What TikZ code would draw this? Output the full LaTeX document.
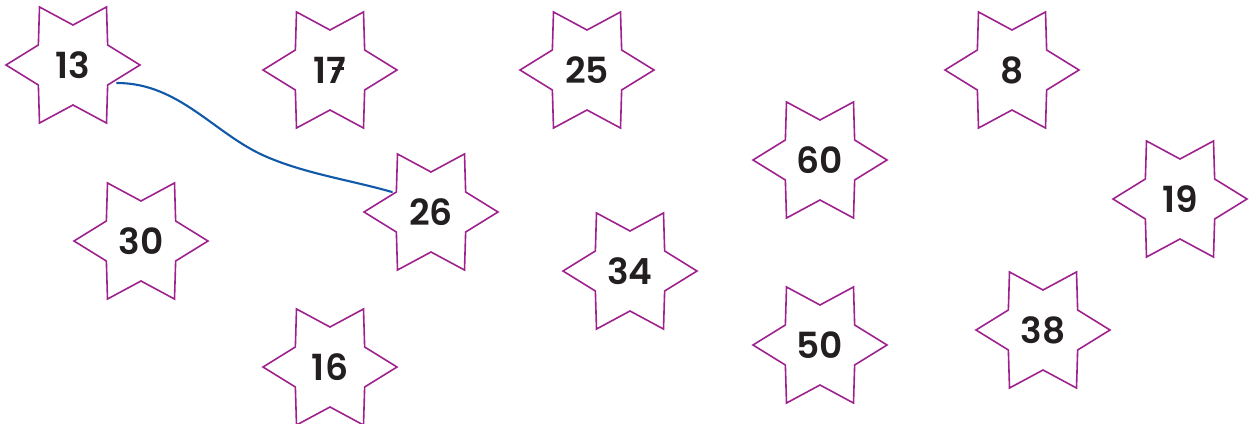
\documentclass[tikz,border=0pt]{standalone}
\usepackage{fontspec}
\setmainfont{Poppins}[BoldFont={Poppins SemiBold}]
\definecolor{starpurple}{RGB}{158,34,142}
\definecolor{lineblue}{RGB}{16,88,168}
\definecolor{numink}{RGB}{35,31,32}
\tikzset{
  starline/.style={draw=starpurple, line width=1.6pt, line join=miter},
  num/.style={inner sep=0pt, text=numink, font=\fontsize{36}{40}\selectfont\bfseries},
  link/.style={draw=lineblue, line width=2.1pt, line cap=round}
}
\newcommand\hexstar[3]{%
  \node[num] (#1) at (#2) {#3};
  \draw[starline, shift={(#2)}] (0:67) -- (30:40) -- (60:67) -- (90:40) -- (120:67) -- (150:40)
     -- (180:67) -- (210:40) -- (240:67) -- (270:40) -- (300:67) -- (330:40) -- cycle;
}
\begin{document}
\begin{tikzpicture}[x=1pt,y=-1pt]
\useasboundingbox (0,0) rectangle (1258,423);
\hexstar{n13}{73,65}{13}
\hexstar{n17}{330,70}{17\llap{\raisebox{0.36em}{\rule{0.34em}{0.08em}}\kern0.06em}}
\hexstar{n25}{587,70}{25}
\hexstar{n8}{1012,70}{8}
\hexstar{n60}{820,160}{60}
\hexstar{n19}{1180,199}{19}
\hexstar{n26}{431,212}{26}
\hexstar{n30}{141,241}{30}
\hexstar{n34}{630,271}{34}
\hexstar{n16}{330,367}{16}
\hexstar{n50}{820,345}{50}
\hexstar{n38}{1043,330}{38}
\coordinate (c1) at ([shift={(44,18)}]n13.center);
\coordinate (c2) at ([shift={(-39,-20)}]n26.center);
\draw[link] (c1) .. controls (180,83) and (215,135) .. (267,157)
  .. controls (307,174) and (350,180) .. (c2);
\end{tikzpicture}
\end{document}
